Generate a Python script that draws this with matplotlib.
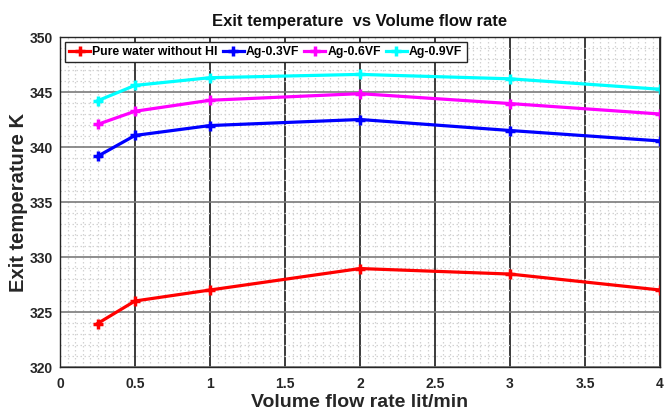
import matplotlib
matplotlib.use("Agg")
import matplotlib.pyplot as plt
from matplotlib.ticker import MultipleLocator

flow = [0.25, 0.5, 1, 2, 3, 4]
pure_water = [323.95, 326.0, 327.0, 328.95, 328.45, 327.0]
ag03 = [339.15, 341.05, 341.95, 342.5, 341.5, 340.55]
ag06 = [342.05, 343.25, 344.25, 344.85, 343.95, 343.0]
ag09 = [344.2, 345.6, 346.3, 346.6, 346.2, 345.25]
labels = ["Pure water without HI", "Ag-0.3VF", "Ag-0.6VF", "Ag-0.9VF"]
colors = ["#ff0000", "#0000ff", "#ff00ff", "#00ffff"]
xticks = [0, 0.5, 1, 1.5, 2, 2.5, 3, 3.5, 4]
yticks = [320, 325, 330, 335, 340, 345, 350]

plt.rcParams['font.family'] = ['Liberation Sans', 'DejaVu Sans']
fig = plt.figure(figsize=(6.65, 4.15), dpi=100)
# left 60px, right 660px, top 37px, bottom 367px
ax = fig.add_axes([60/665, (415-367)/415, 600/665, 330/415])

for ys, lab, c in zip([pure_water, ag03, ag06, ag09], labels, colors):
    ax.plot(flow, ys, color=c, lw=2.3, marker='+', ms=7, mew=2.5, label=lab)

ax.set_xlim(0, 4)
ax.set_ylim(320, 350)
ax.set_xticks(xticks)
ax.set_xticklabels([f"{t:g}" for t in xticks])
ax.set_yticks(yticks)
ax.xaxis.set_minor_locator(MultipleLocator(0.05))
ax.yaxis.set_minor_locator(MultipleLocator(1))
ax.grid(which='minor', axis='both', color='#d2d2d2', ls=(0, (1.2, 2.0)), lw=0.9)
ax.grid(which='major', axis='x', color='#1a1a1a', ls='-', lw=1.2)
ax.grid(which='major', axis='y', color='#7a7a7a', ls='-', lw=1.2)
ax.set_axisbelow(True)
ax.tick_params(which='both', length=0)
ax.tick_params(axis='y', pad=5)
ax.tick_params(axis='x', pad=7)
ax.tick_params(axis='both', labelsize=10, labelcolor='#262626')
for lab in ax.get_xticklabels() + ax.get_yticklabels():
    lab.set_fontweight('bold')
for s in ax.spines.values():
    s.set_color('#262626')
    s.set_linewidth(1.0)

ax.set_xlabel("Volume flow rate lit/min", fontsize=14, fontweight='bold', color='#262626', labelpad=2)
ax.set_ylabel("Exit temperature K", fontsize=14.5, fontweight='bold', color='#262626', labelpad=1)
ax.set_title("Exit temperature  vs Volume flow rate", fontsize=12, fontweight='bold', color='#111111', pad=8)

leg = ax.legend(loc='upper left', ncol=4, prop={'weight': 'bold', 'size': 8.8},
                frameon=True, fancybox=False, edgecolor='#262626', framealpha=1,
                handlelength=1.7, handletextpad=0.2, columnspacing=0.4,
                borderpad=0.35, borderaxespad=0.4)
leg.get_frame().set_linewidth(1.0)

fig.savefig("out.png", dpi=100)
